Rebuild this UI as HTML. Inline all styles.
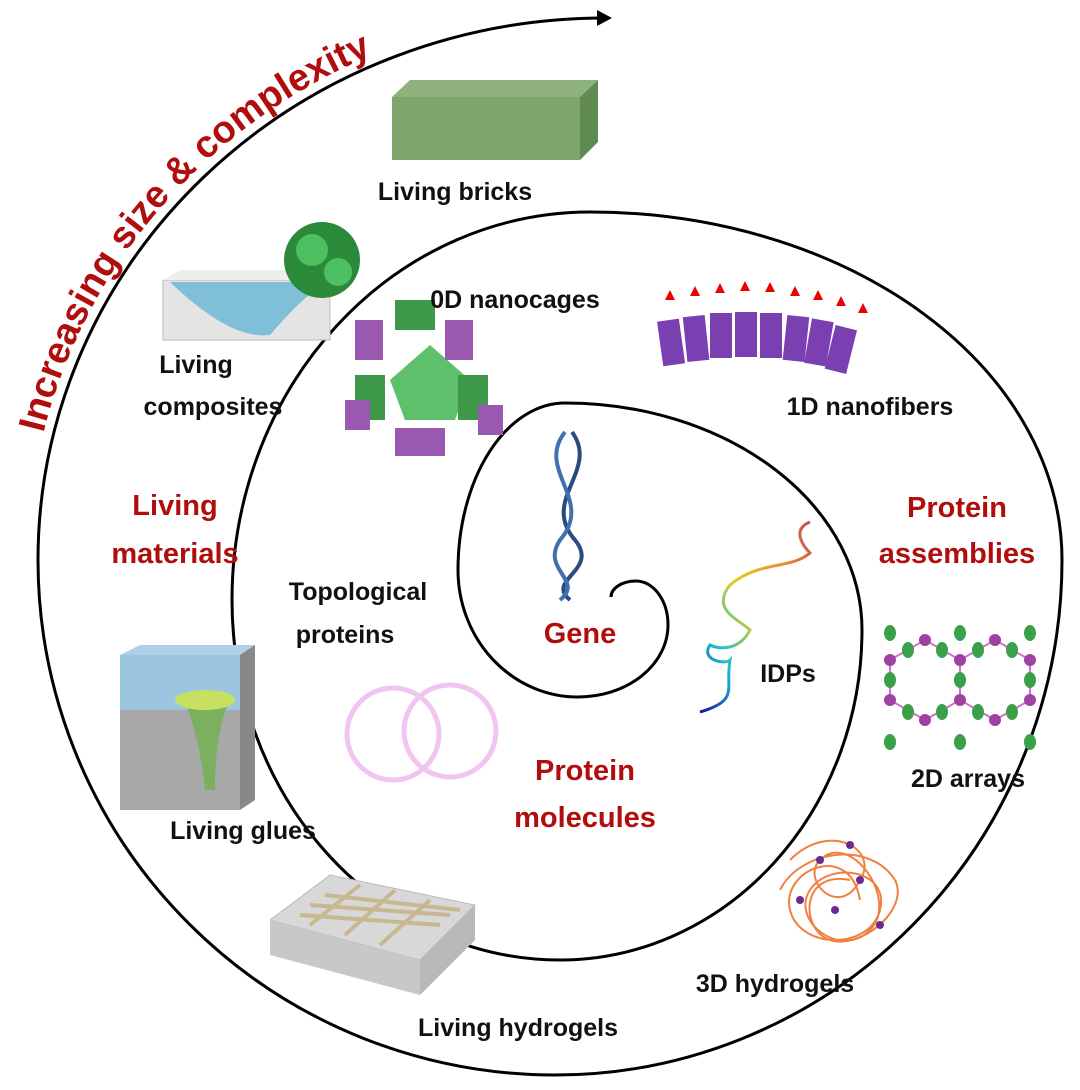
<!DOCTYPE html>
<html><head><style>
html,body{margin:0;padding:0;background:#fff}
svg{display:block}
text{font-family:"Liberation Sans",sans-serif;font-weight:bold}
.k{fill:#111;font-size:25px}
.r{fill:#b00d0d;font-size:29px}
</style></head><body>
<svg width="1080" height="1090" viewBox="0 0 1080 1090" xmlns="http://www.w3.org/2000/svg">
<defs>
<linearGradient id="idp" x1="0" y1="1" x2="1" y2="0"><stop offset="0" stop-color="#1010a0"/><stop offset=".25" stop-color="#20c0d0"/><stop offset=".5" stop-color="#e0d020"/><stop offset=".75" stop-color="#f09030"/><stop offset="1" stop-color="#c05050"/></linearGradient>
<path id="tp" d="M28 560 A577 552 0 0 1 605 8" fill="none"/>
</defs>
<!-- spiral -->
<path d="M611 597 A25 16 0 0 1 636 581 A32 44 0 0 1 668 625 A90 72 0 0 1 578 697 A120 127 0 0 1 458 570 A107 167 0 0 1 565 403 A297 227 0 0 1 862 630 A302 330 0 0 1 560 960 A328 360 0 0 1 232 600 A358 388 0 0 1 590 212 A472 348 0 0 1 1062 560 A507 515 0 0 1 555 1075 A517 515 0 0 1 38 560 A567 542 0 0 1 605 18" fill="none" stroke="#000" stroke-width="3"/>
<path d="M597 10 L612 18 L597 26 z" fill="#000"/>

<text class="r" style="font-size:38px"><textPath href="#tp" startOffset="128">Increasing size &amp; complexity</textPath></text>

<!-- brick -->
<polygon points="392,97 410,80 598,80 580,97" fill="#8fb27c"/>
<polygon points="580,97 598,80 598,142 580,160" fill="#5f8a50"/>
<rect x="392" y="97" width="188" height="63" fill="#7fa56c"/>
<text class="k" x="455" y="200" text-anchor="middle">Living bricks</text>

<!-- composite -->
<rect x="163" y="280" width="167" height="60" fill="#e4e4e4" stroke="#bbb"/>
<polygon points="163,280 180,270 347,270 330,280" fill="#eee"/>
<path d="M170 282 Q230 340 270 335 Q300 300 325 282 z" fill="#7fc0d8"/>
<circle cx="322" cy="260" r="38" fill="#2a8a3a"/>
<circle cx="312" cy="250" r="16" fill="#4cc060"/><circle cx="338" cy="272" r="14" fill="#4cc060"/>
<text class="k" x="196" y="373" text-anchor="middle">Living</text>
<text class="k" x="213" y="415" text-anchor="middle">composites</text>

<!-- nanocage -->
<g>
<polygon points="430,345 470,380 455,420 405,420 390,380" fill="#5ec06a"/>
<rect x="395" y="300" width="40" height="30" fill="#3e9a4a"/>
<rect x="355" y="320" width="28" height="40" fill="#9a58b0"/>
<rect x="445" y="320" width="28" height="40" fill="#9a58b0"/>
<rect x="355" y="375" width="30" height="45" fill="#3e9a4a"/>
<rect x="458" y="375" width="30" height="45" fill="#3e9a4a"/>
<rect x="395" y="428" width="50" height="28" fill="#9a58b0"/>
<rect x="345" y="400" width="25" height="30" fill="#9a58b0"/>
<rect x="478" y="405" width="25" height="30" fill="#9a58b0"/>
</g>
<text class="k" x="515" y="308" text-anchor="middle">0D nanocages</text>

<!-- nanofibers -->
<g fill="#7a3fb0">
<rect x="660" y="320" width="22" height="45" transform="rotate(-8 671 342)"/>
<rect x="685" y="316" width="22" height="45" transform="rotate(-6 696 338)"/>
<rect x="710" y="313" width="22" height="45"/>
<rect x="735" y="312" width="22" height="45"/>
<rect x="760" y="313" width="22" height="45"/>
<rect x="785" y="316" width="22" height="45" transform="rotate(6 796 338)"/>
<rect x="808" y="320" width="22" height="45" transform="rotate(10 819 342)"/>
<rect x="830" y="327" width="22" height="45" transform="rotate(14 841 349)"/>
</g>
<g fill="#e00">
<path d="M665 300 l5 -10 l5 10z M690 296 l5 -10 l5 10z M715 293 l5 -10 l5 10z M740 291 l5 -10 l5 10z M765 292 l5 -10 l5 10z M790 296 l5 -10 l5 10z M813 300 l5 -10 l5 10z M836 306 l5 -10 l5 10z M858 313 l5 -10 l5 10z"/>
</g>
<text class="k" x="870" y="415" text-anchor="middle">1D nanofibers</text>

<text class="r" x="175" y="515" text-anchor="middle">Living</text>
<text class="r" x="175" y="563" text-anchor="middle">materials</text>
<text class="r" x="957" y="517" text-anchor="middle">Protein</text>
<text class="r" x="957" y="563" text-anchor="middle">assemblies</text>

<!-- DNA -->
<path d="M572 432 C600 470 540 500 575 540 C600 570 545 580 570 600" fill="none" stroke="#2a4a80" stroke-width="4"/>
<path d="M565 432 C535 470 595 500 560 540 C540 570 585 580 560 600" fill="none" stroke="#4070b0" stroke-width="4"/>
<text class="k" x="358" y="600" text-anchor="middle">Topological</text>
<text class="k" x="345" y="643" text-anchor="middle">proteins</text>
<text class="r" x="580" y="643" text-anchor="middle">Gene</text>

<!-- IDP -->
<path d="M810 522 C790 530 805 548 810 553 C790 570 760 560 730 585 C710 610 740 620 750 630 C740 650 720 650 710 645 C700 660 725 665 730 660 C725 690 740 700 700 712" fill="none" stroke="url(#idp)" stroke-width="3"/>
<text class="k" x="788" y="682" text-anchor="middle">IDPs</text>

<!-- rings -->
<circle cx="393" cy="734" r="46" fill="none" stroke="#f2c4f2" stroke-width="5"/>
<circle cx="450" cy="731" r="46" fill="none" stroke="#f2c4f2" stroke-width="5"/>
<text class="r" x="585" y="780" text-anchor="middle">Protein</text>
<text class="r" x="585" y="827" text-anchor="middle">molecules</text>

<!-- 2D arrays -->
<g fill="none" stroke="#d070d0" stroke-width="2">
<path d="M890 660 L925 640 L960 660 L960 700 L925 720 L890 700 z M960 660 L995 640 L1030 660 L1030 700 L995 720 L960 700"/>
</g>
<g fill="#3aa04a">
<ellipse cx="890" cy="633" rx="6" ry="8"/><ellipse cx="960" cy="633" rx="6" ry="8"/><ellipse cx="1030" cy="633" rx="6" ry="8"/>
<ellipse cx="908" cy="650" rx="6" ry="8"/><ellipse cx="942" cy="650" rx="6" ry="8"/><ellipse cx="978" cy="650" rx="6" ry="8"/><ellipse cx="1012" cy="650" rx="6" ry="8"/>
<ellipse cx="890" cy="680" rx="6" ry="8"/><ellipse cx="960" cy="680" rx="6" ry="8"/><ellipse cx="1030" cy="680" rx="6" ry="8"/>
<ellipse cx="908" cy="712" rx="6" ry="8"/><ellipse cx="942" cy="712" rx="6" ry="8"/><ellipse cx="978" cy="712" rx="6" ry="8"/><ellipse cx="1012" cy="712" rx="6" ry="8"/>
<ellipse cx="890" cy="742" rx="6" ry="8"/><ellipse cx="960" cy="742" rx="6" ry="8"/><ellipse cx="1030" cy="742" rx="6" ry="8"/>
</g>
<g fill="#a040a0"><circle cx="890" cy="660" r="6"/><circle cx="925" cy="640" r="6"/><circle cx="960" cy="660" r="6"/><circle cx="995" cy="640" r="6"/><circle cx="1030" cy="660" r="6"/><circle cx="890" cy="700" r="6"/><circle cx="925" cy="720" r="6"/><circle cx="960" cy="700" r="6"/><circle cx="995" cy="720" r="6"/><circle cx="1030" cy="700" r="6"/></g>
<text class="k" x="968" y="787" text-anchor="middle">2D arrays</text>

<!-- glue -->
<polygon points="120,655 140,645 255,645 240,655" fill="#b0d0e8"/>
<rect x="120" y="655" width="120" height="55" fill="#9cc6e0"/>
<rect x="120" y="710" width="120" height="100" fill="#a8a8a8"/>
<polygon points="240,655 255,645 255,800 240,810" fill="#888"/>
<path d="M185 700 Q200 740 205 790 L215 790 Q215 730 230 700 z" fill="#7ab060"/>
<ellipse cx="205" cy="700" rx="30" ry="10" fill="#c8e060"/>
<text class="k" x="243" y="839" text-anchor="middle">Living glues</text>

<!-- 3D hydrogels -->
<g fill="none" stroke="#f08040" stroke-width="2">
<path d="M790 860 C830 820 880 850 860 880 C840 920 800 880 820 860 C850 830 900 900 870 930 C840 960 790 920 810 890 C830 860 890 870 880 910 C870 950 800 950 790 910 C780 870 850 840 860 900"/>
<path d="M780 890 C800 850 870 840 895 880 C910 910 860 950 830 940 C800 930 800 870 850 880"/>
</g>
<g fill="#6a2a90"><circle cx="820" cy="860" r="4"/><circle cx="860" cy="880" r="4"/><circle cx="835" cy="910" r="4"/><circle cx="880" cy="925" r="4"/><circle cx="800" cy="900" r="4"/><circle cx="850" cy="845" r="4"/></g>
<text class="k" x="775" y="992" text-anchor="middle">3D hydrogels</text>

<!-- living hydrogel -->
<polygon points="270,920 330,875 475,905 420,960" fill="#d8d8d8" stroke="#bbb"/>
<polygon points="270,920 420,960 420,995 270,955" fill="#c8c8c8"/>
<polygon points="420,960 475,905 475,940 420,995" fill="#b8b8b8"/>
<g stroke="#c8b890" stroke-width="4"><path d="M300 915 L440 925 M310 905 L450 915 M325 895 L460 910 M310 925 L360 885 M345 935 L395 890 M380 945 L430 900"/></g>
<text class="k" x="518" y="1036" text-anchor="middle">Living hydrogels</text>
</svg>
</body></html>
